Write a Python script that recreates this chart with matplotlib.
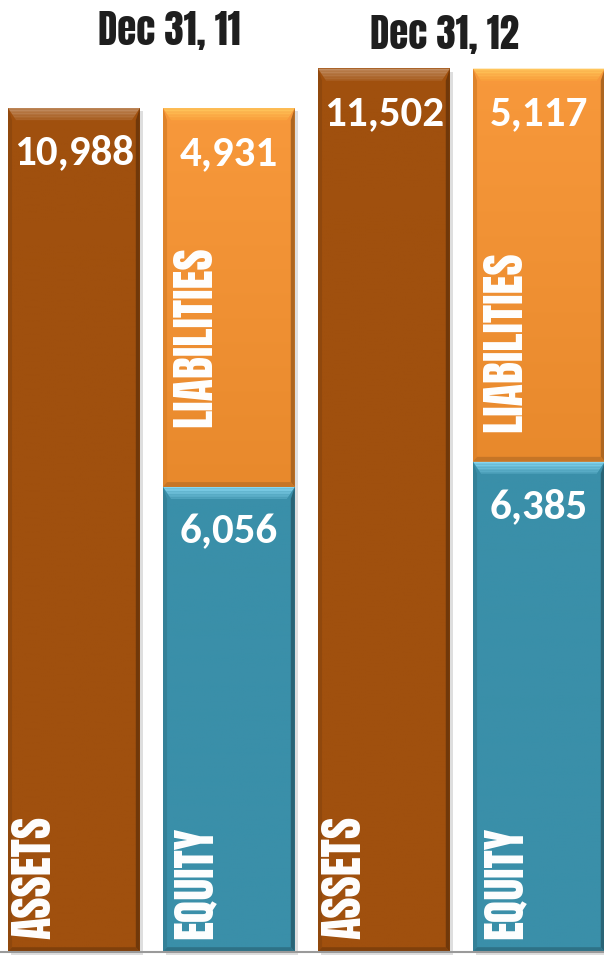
import matplotlib.pyplot as plt
import numpy as np
from matplotlib.colors import to_rgb
from matplotlib.patches import Polygon

# balance sheet totals (in thousands)
periods = ["Dec 31, 11", "Dec 31, 12"]
assets = [10988, 11502]
equity = [6056, 6385]
liabilities = [4931, 5117]

HEAD_FONT = ["Anton", "DejaVu Sans"]
NUM_FONT = ["Carlito", "Open Sans", "DejaVu Sans"]

C_ASSETS = "#a0500e"
C_LIAB = "#f7922f"
C_EQUITY = "#3a8fa9"

fig = plt.figure(figsize=(6.04, 9.55), dpi=100)
ax = fig.add_axes([0, 0, 1, 1])
XLIM = (-0.477, 3.42)
YLIM = (-39, 12396)


def mix(c, other, t):
    c = np.array(to_rgb(c))
    o = np.array(to_rgb(other))
    return tuple(c * (1 - t) + o * t)


def px_to_data(px, py):
    dx = px * (XLIM[1] - XLIM[0]) / (fig.get_figwidth() * fig.dpi)
    dy = py * (YLIM[1] - YLIM[0]) / (fig.get_figheight() * fig.dpi)
    return dx, dy


def bevel_bar(rect, color, top_col, grad=0.0):
    # gradient fill + bevelled edges like an office chart
    x0, y0 = rect.get_x(), rect.get_y()
    x1, y1 = x0 + rect.get_width(), y0 + rect.get_height()
    rect.set_visible(False)
    n = 64
    t = np.linspace(0, 1, n)[:, None]
    top = np.array(to_rgb(mix(color, "white", grad)))
    bot = np.array(to_rgb(mix(color, "black", grad)))
    img = (top * (1 - t) + bot * t)[:, None, :]
    ax.imshow(img, extent=(x0, x1, y0, y1), aspect="auto", zorder=2,
              interpolation="bilinear")
    bx, by = px_to_data(8, 12)
    sx, _ = px_to_data(4, 0)
    # soft shadow to the lower right
    shx, shy = px_to_data(3, 3)
    ax.add_patch(Polygon([(x0 + shx, y0 - shy), (x1 + shx, y0 - shy),
                          (x1 + shx, y1 - shy), (x0 + shx, y1 - shy)],
                         closed=True, color="#c8c8c8", alpha=0.6, lw=0,
                         zorder=1.5))
    # top bevel as a small gradient strip
    k = 8
    for j in range(k):
        f0, f1 = j / k, (j + 1) / k
        c = mix(top_col, color, f0 * 0.8)
        ax.add_patch(Polygon([(x0 + bx * f0, y1 - by * f0), (x1 - bx * f0, y1 - by * f0),
                              (x1 - bx * f1, y1 - by * f1), (x0 + bx * f1, y1 - by * f1)],
                             closed=True, color=c, lw=0, zorder=3))
    ax.add_patch(Polygon([(x1, y1), (x1, y0), (x1 - sx, y0 + by * 0.4), (x1 - sx, y1 - by)],
                         closed=True, color=mix(color, "black", 0.3), lw=0, zorder=3))
    ax.add_patch(Polygon([(x0, y1), (x0, y0), (x0 + sx, y0 + by * 0.4), (x0 + sx, y1 - by)],
                         closed=True, color=mix(color, "black", 0.1), lw=0, zorder=3))
    ax.add_patch(Polygon([(x0, y0), (x1, y0), (x1 - sx, y0 + by * 0.4), (x0 + sx, y0 + by * 0.4)],
                         closed=True, color=mix(color, "black", 0.2), lw=0, zorder=3))


x_assets = np.array([0, 2])
x_split = np.array([1, 3])
w = 0.85

b_a = ax.bar(x_assets, assets, width=w, color=C_ASSETS)
b_e = ax.bar(x_split, equity, width=w, color=C_EQUITY)
b_l = ax.bar(x_split, liabilities, width=w, bottom=equity, color=C_LIAB)

for r in b_a:
    bevel_bar(r, C_ASSETS, mix(C_ASSETS, "white", 0.35))
for r in b_e:
    bevel_bar(r, C_EQUITY, "#86d6f0")
for r in b_l:
    bevel_bar(r, C_LIAB, "#ffc65c", grad=0.06)

ax.axhline(0, color="#9a9a9a", lw=1.5, zorder=4)

_, off = px_to_data(0, 45)
num_kw = dict(color="white", fontsize=31, fontweight="bold", ha="center",
              va="center", family=NUM_FONT, zorder=5)
for i in range(2):
    ax.text(x_assets[i], assets[i] - off, f"{assets[i]:,}", **num_kw)
    ax.text(x_split[i], equity[i] - off, f"{equity[i]:,}", **num_kw)
    ax.text(x_split[i], equity[i] + liabilities[i] - off, f"{liabilities[i]:,}", **num_kw)

# rotated category names at the foot of each segment
lab_kw = dict(color="white", fontsize=33, rotation=90, family=HEAD_FONT,
              ha="center", va="bottom", zorder=5)
lx, _ = px_to_data(26, 0)
lx2, _ = px_to_data(32, 0)
_, foot = px_to_data(0, 13)
liab_foot = [px_to_data(0, 60)[1], px_to_data(0, 30)[1]]
for i in range(2):
    ax.text(x_assets[i] - w / 2 + lx, foot, "ASSETS", **lab_kw)
    ax.text(x_split[i] - w / 2 + lx2, foot, "EQUITY", **lab_kw)
    ax.text(x_split[i] - w / 2 + lx2, equity[i] + liab_foot[i], "LIABILITIES", **lab_kw)

title_pos = [(169, 31), (444, 35)]
for (px, py), lab in zip(title_pos, periods):
    fig.text(px / 604, 1 - py / 955, lab, fontsize=28, family=HEAD_FONT,
             color="#1e1e1e", ha="center", va="center")

ax.set_xlim(*XLIM)
ax.set_ylim(*YLIM)
ax.axis("off")

fig.savefig("out.png", dpi=100)
